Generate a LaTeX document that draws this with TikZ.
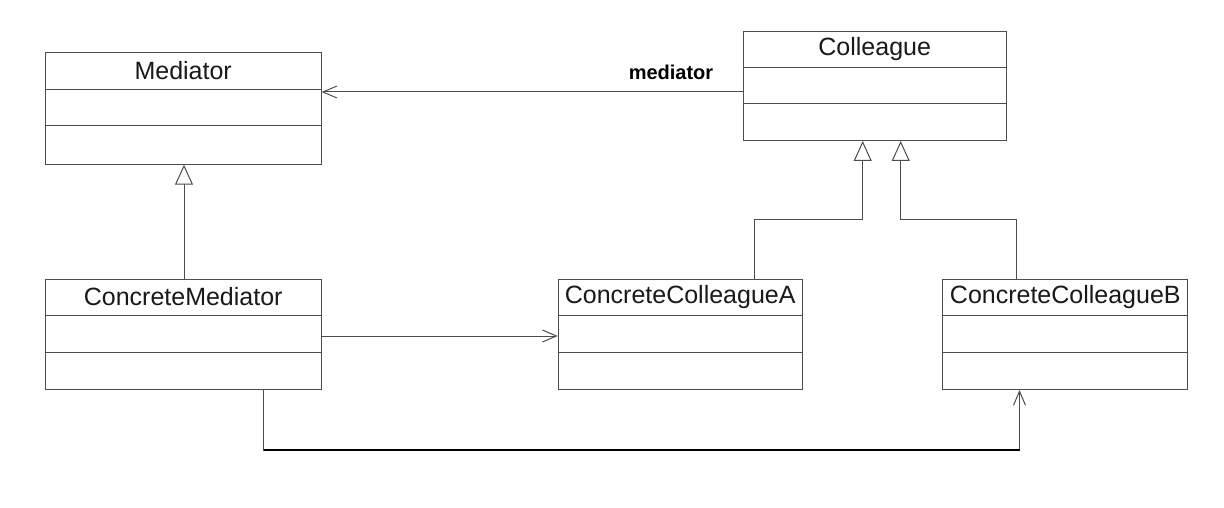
\documentclass[tikz,border=0pt]{standalone}
\usepackage{fontspec}
\setmainfont{Liberation Sans}
\usetikzlibrary{arrows.meta,calc}
\begin{document}
\begin{tikzpicture}[x=1pt,y=-1pt,
  cls/.style={draw=black!70,line width=1pt,fill=white,rectangle,inner sep=0pt,anchor=north west},
  ttl/.style={font=\fontsize{25}{29}\selectfont,text=black!90,inner sep=0pt},
  conn/.style={draw=black!70,line width=1pt},
  assoc/.style={conn,-{Straight Barb[length=14pt,width=12pt,line width=1pt]}},
  gen/.style={conn,-{Triangle[open,length=20pt,width=18pt,fill=white,line width=1pt]}},
  lbl/.style={font=\fontsize{20}{24}\selectfont\bfseries,text=black,inner sep=0pt}]
\useasboundingbox (0,0) rectangle (1224,508);
% classes
\node[cls,minimum width=276pt,minimum height=112pt] (med) at (44.7,51.7) {};
\node[cls,minimum width=263pt,minimum height=109pt] (col) at (742.7,31) {};
\node[cls,minimum width=276pt,minimum height=110pt] (cm) at (44.7,279) {};
\node[cls,minimum width=244pt,minimum height=110pt] (cca) at (557.7,279) {};
\node[cls,minimum width=245pt,minimum height=110pt] (ccb) at (942.3,279) {};
% compartments
\draw[conn] ($(med.north west)+(0,37.6)$) -- ($(med.north east)+(0,37.6)$);
\draw[conn] ($(med.north west)+(0,74.3)$) -- ($(med.north east)+(0,74.3)$);
\draw[conn] ($(col.north west)+(0,36.3)$) -- ($(col.north east)+(0,36.3)$);
\draw[conn] ($(col.north west)+(0,73)$) -- ($(col.north east)+(0,73)$);
\foreach \c in {cm,cca,ccb}{
  \draw[conn] ($(\c.north west)+(0,36)$) -- ($(\c.north east)+(0,36)$);
  \draw[conn] ($(\c.north west)+(0,73.3)$) -- ($(\c.north east)+(0,73.3)$);
}
% titles
\node[ttl] (medt) at ($(med.north)+(0,18.5)$) {Mediator};
\node[ttl] (colt) at ($(col.north)+(0,18)$) {Colleague};
\node[ttl] (cmt) at ($(cm.north)+(0,18)$) {ConcreteMediator};
\node[ttl] (ccat) at ($(cca.north)+(0,18)$) {ConcreteColleagueA};
\node[ttl] (ccbt) at ($(ccb.north)+(0,18)$) {ConcreteColleagueB};
% association Colleague -> Mediator
\coordinate (c1) at ($(col.north west)+(0,61)$);
\draw[assoc] (c1) -- (c1 -| med.east);
\node[lbl] (mlab) at (671,72.5) {mediator};
% generalization ConcreteMediator -> Mediator
\coordinate (g0) at (184,279);
\draw[gen] (g0 |- cm.north) -- (g0 |- med.south);
% generalizations to Colleague
\coordinate (ga) at (754,219);
\coordinate (gb) at (1016,219);
\draw[gen] (ga |- cca.north) -- (ga) -- (862.7,219) -- (862.7,0 |- col.south);
\draw[gen] (gb |- ccb.north) -- (gb) -- (900.7,219) -- (900.7,0 |- col.south);
% ConcreteMediator -> ConcreteColleagueA
\coordinate (a1) at (0,336);
\draw[assoc] (cm.east |- a1) -- (cca.west |- a1);
% ConcreteMediator -> ConcreteColleagueB
\coordinate (b1) at (263.5,450);
\coordinate (b2) at (1019.5,450);
\draw[assoc] (b1 |- cm.south) -- (b1) -- (b2) -- (b2 |- ccb.south);
\draw[line width=2pt,black] (b1) -- (b2);
\end{tikzpicture}
\end{document}
